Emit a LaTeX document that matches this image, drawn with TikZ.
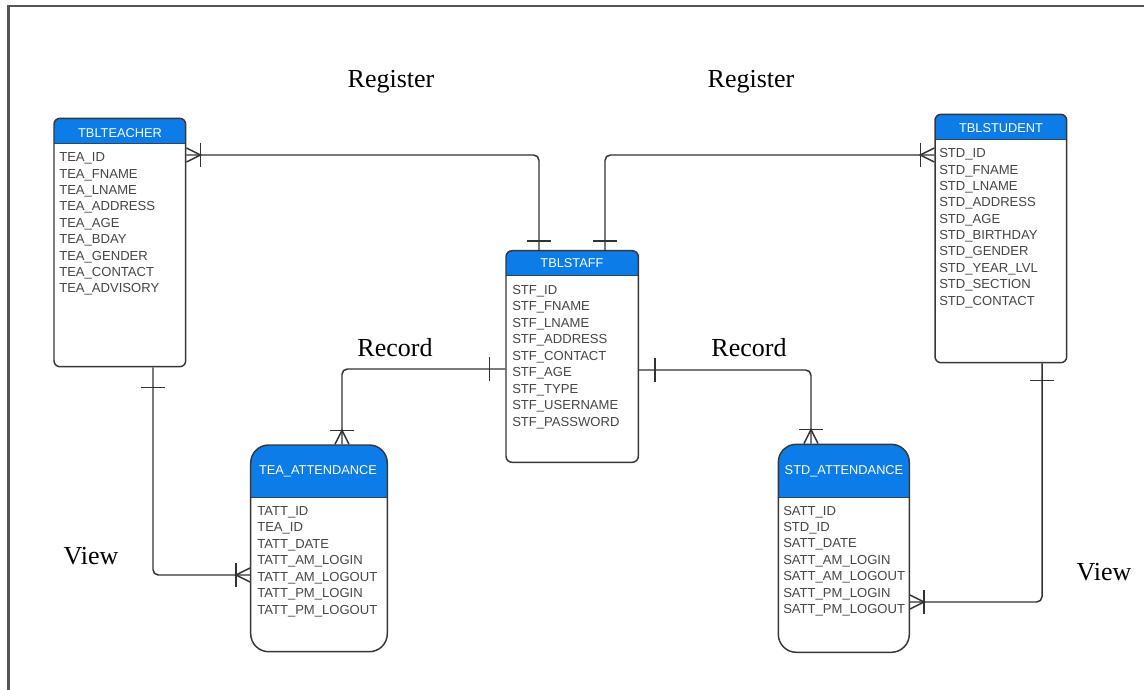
\documentclass[tikz,border=0pt]{standalone}
\usepackage{fontspec}
\setmainfont{Liberation Serif}
\newfontfamily\arialf{Liberation Sans}
\usetikzlibrary{calc,fit}
\definecolor{hdrc}{RGB}{12,124,232}
\definecolor{bordc}{RGB}{55,55,55}
\definecolor{txtc}{RGB}{70,70,70}
\definecolor{connc}{RGB}{50,50,50}
\definecolor{framec}{RGB}{85,85,85}
\tikzset{
 tbl/.style={draw=bordc, line width=1.1pt, rounded corners=#1, inner sep=0pt, fill=white},
 hdr/.style={path picture={\fill[hdrc, sharp corners] (path picture bounding box.north west) rectangle ($(path picture bounding box.north east)+(0,#1)$);
   \draw[bordc!80!hdrc, line width=0.6pt, sharp corners] ($(path picture bounding box.north west)+(0,#1)$) -- ($(path picture bounding box.north east)+(0,#1)$);}},
 field/.style={font=\arialf\fontsize{9.8}{11}\selectfont, text=txtc, inner sep=0pt},
 hdrtxt/.style={font=\arialf\fontsize{9.6}{11}\selectfont, text=white, inner sep=0pt},
 conn/.style={draw=connc, line width=1.1pt},
 bendline/.style={conn, rounded corners=4pt},
 lbl/.style={font=\fontsize{19.5}{22}\selectfont, inner sep=0pt},
 crow/.pic={\draw[conn] (0,-7) -- (14,0) -- (0,7); \draw[conn] (14,-12) -- (14,12);},
 one/.pic={\draw[conn] (0,-12) -- (0,12);},
}
\newcommand\fieldrows[5]{\foreach \f [count=\i] in {#5} {\node[field, anchor=base west] (#1-\i) at ({#2},{#3+#4*(\i-1)}) {\f};}}
\begin{document}
\begin{tikzpicture}[x=0.75pt,y=-0.75pt]
\useasboundingbox (0,0) rectangle (1144,689);
\fill[white] (0,0) rectangle (1144,689);
\draw[framec, line width=2.2pt] (8.5,700) -- (8.5,6) -- (1160,6);

% tables
\node[tbl=4.5pt, hdr=25, fit={(54,118.3) (185.7,366.7)}] (teacher) {};
\node[tbl=4.5pt, hdr=25, fit={(935,114.3) (1066.7,362.7)}] (student) {};
\node[tbl=4.5pt, hdr=25, fit={(506,250.7) (638.3,462.3)}] (staff) {};
\node[tbl=13.5pt, hdr=52.5, fit={(250.7,445) (387.3,651.7)}] (teaatt) {};
\node[tbl=13.5pt, hdr=53, fit={(778.3,444.3) (909.3,652.3)}] (stdatt) {};

% headers
\node[hdrtxt] (teacher-h) at (120,132.7) {TBLTEACHER};
\node[hdrtxt] (student-h) at (1001,127.7) {TBLSTUDENT};
\node[hdrtxt] (staff-h) at (572,263.5) {TBLSTAFF};
\node[hdrtxt] (teaatt-h) at (318,471.7) {TEA\_ATTENDANCE};
\node[hdrtxt] (stdatt-h) at (844,471.7) {STD\_ATTENDANCE};

% fields
\fieldrows{tf}{59}{161.7}{16.4}{TEA\_ID,TEA\_FNAME,TEA\_LNAME,TEA\_ADDRESS,TEA\_AGE,TEA\_BDAY,TEA\_GENDER,TEA\_CONTACT,TEA\_ADVISORY}
\fieldrows{sf}{939}{157.7}{16.37}{STD\_ID,STD\_FNAME,STD\_LNAME,STD\_ADDRESS,STD\_AGE,STD\_BIRTHDAY,STD\_GENDER,STD\_YEAR\_LVL,STD\_SECTION,STD\_CONTACT}
\fieldrows{ff}{512}{294}{16.5}{STF\_ID,STF\_FNAME,STF\_LNAME,STF\_ADDRESS,STF\_CONTACT,STF\_AGE,STF\_TYPE,STF\_USERNAME,STF\_PASSWORD}
\fieldrows{taf}{257}{515}{16.55}{TATT\_ID,TEA\_ID,TATT\_DATE,TATT\_AM\_LOGIN,TATT\_AM\_LOGOUT,TATT\_PM\_LOGIN,TATT\_PM\_LOGOUT}
\fieldrows{saf}{783}{515}{16.4}{SATT\_ID,STD\_ID,SATT\_DATE,SATT\_AM\_LOGIN,SATT\_AM\_LOGOUT,SATT\_PM\_LOGIN,SATT\_PM\_LOGOUT}

% bend coordinates
\coordinate (rl) at (539,155);
\coordinate (rr) at (605,155);
\coordinate (rcl) at (342,369);
\coordinate (rcr) at (811,370);
\coordinate (vl) at (153,575);
\coordinate (vr) at (1042,602);

% connectors
\draw[bendline] (teacher.east |- rl) -| (staff.north -| rl);
\draw[bendline] (staff.north -| rr) |- (student.west |- rr);
\draw[bendline] (staff.west |- rcl) -| (teaatt.north -| rcl);
\draw[bendline] (staff.east |- rcr) -| (stdatt.north -| rcr);
\draw[bendline] (teacher.south -| vl) |- (teaatt.west |- vl);
\draw[bendline] (student.south -| vr) |- (stdatt.east |- vr);

% cardinality marks
\pic at (teacher.east |- rl) {crow};
\pic[rotate=90] at ($(staff.north -| rl)+(0,-9)$) {one};
\pic[rotate=180] at (student.west |- rr) {crow};
\pic[rotate=90] at ($(staff.north -| rr)+(0,-9)$) {one};
\pic at ($(staff.west |- rcl)+(-16,0)$) {one};
\pic[rotate=90] at (teaatt.north -| rcl) {crow};
\pic at ($(staff.east |- rcr)+(16,0)$) {one};
\pic[rotate=90] at (stdatt.north -| rcr) {crow};
\pic[rotate=90] at ($(teacher.south -| vl)+(0,20)$) {one};
\pic[rotate=180] at (teaatt.west |- vl) {crow};
\pic[rotate=90] at ($(student.south -| vr)+(0,17)$) {one};
\pic at (stdatt.east |- vr) {crow};

% labels
\node[lbl] (reg1) at (391,82) {Register};
\node[lbl] (reg2) at (751,82) {Register};
\node[lbl] (rec1) at (395,348) {Record};
\node[lbl] (rec2) at (749,348) {Record};
\node[lbl] (view1) at (91,556) {View};
\node[lbl] (view2) at (1104,572) {View};
\end{tikzpicture}
\end{document}
